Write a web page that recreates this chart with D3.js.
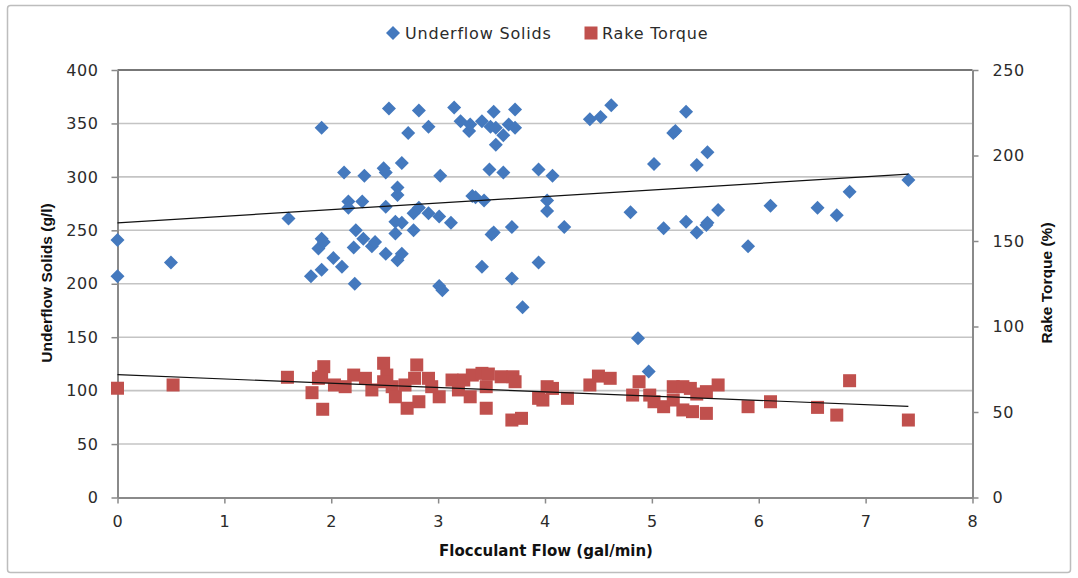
<!DOCTYPE html>
<html>
<head>
<meta charset="utf-8">
<script src="https://cdn.jsdelivr.net/npm/d3@7"></script>
<style>
  html, body { margin: 0; padding: 0; background: #fff; }
  svg { display: block; }
  .tick text { font-family: "DejaVu Sans", sans-serif; font-size: 16px; letter-spacing: 0.6px; fill: #2b2b2b; }
</style>
</head>
<body>
<svg id="chart" width="1078" height="578"></svg>
<script>
// ---- data ----
const xTicks = [0, 1, 2, 3, 4, 5, 6, 7, 8];
const leftTicks = [0, 50, 100, 150, 200, 250, 300, 350, 400];
const rightTicks = [0, 50, 100, 150, 200, 250];
const seriesNames = ["Underflow Solids", "Rake Torque"];

const solidsFlow = [0, 0, 0.5, 1.6, 1.81, 1.88, 1.91, 1.93, 1.91, 1.91, 2.02, 2.1, 2.12, 2.16, 2.16, 2.21, 2.22, 2.23, 2.29, 2.3, 2.31, 2.38, 2.41, 2.49, 2.51, 2.51, 2.51, 2.54, 2.6, 2.6, 2.62, 2.62, 2.62, 2.66, 2.66, 2.66, 2.72, 2.77, 2.77, 2.82, 2.82, 2.91, 2.91, 3.01, 3.02, 3.01, 3.04, 3.12, 3.15, 3.21, 3.29, 3.30, 3.32, 3.35, 3.41, 3.41, 3.43, 3.48, 3.49, 3.50, 3.52, 3.52, 3.54, 3.54, 3.61, 3.61, 3.66, 3.69, 3.69, 3.72, 3.72, 3.79, 3.94, 3.94, 4.02, 4.02, 4.07, 4.18, 4.42, 4.52, 4.62, 4.8, 4.87, 4.97, 5.02, 5.11, 5.2, 5.22, 5.32, 5.32, 5.42, 5.42, 5.51, 5.52, 5.52, 5.62, 5.9, 6.11, 6.55, 6.73, 6.85, 7.4];
const solidsValue = [241, 207, 220, 261, 207, 233, 242, 239, 213, 346, 224, 216, 304, 277, 271, 234, 200, 250, 277, 242, 301, 235, 239, 308, 304, 272, 228, 364, 258, 247, 290, 283, 222, 313, 257, 228, 341, 266, 250, 362, 271, 347, 266, 263, 301, 198, 194, 257, 365, 352, 343, 349, 282, 281, 352, 216, 278, 307, 347, 246, 248, 361, 346, 330, 339, 304, 349, 253, 205, 363, 346, 178, 307, 220, 278, 268, 301, 253, 354, 356, 367, 267, 149, 118, 312, 252, 341, 343, 361, 258, 311, 248, 255, 257, 323, 269, 235, 273, 271, 264, 286, 297];

const torqueFlow = [0, 0.52, 1.59, 1.82, 1.92, 1.91, 1.93, 1.88, 2.03, 2.21, 2.13, 2.32, 2.38, 2.49, 2.52, 2.49, 2.57, 2.60, 2.69, 2.71, 2.80, 2.78, 2.82, 2.91, 3.01, 2.94, 3.13, 3.24, 3.19, 3.32, 3.30, 3.41, 3.47, 3.45, 3.45, 3.59, 3.70, 3.72, 3.69, 3.78, 3.94, 4.02, 4.07, 4.21, 3.98, 4.42, 4.50, 4.61, 4.82, 4.88, 4.98, 5.02, 5.11, 5.20, 5.20, 5.29, 5.36, 5.29, 5.38, 5.42, 5.51, 5.51, 5.62, 5.90, 6.11, 6.55, 6.73, 6.85, 7.40];
const torqueValue = [63.9, 65.8, 70.3, 61.3, 51.6, 70.6, 76.5, 69.7, 65.8, 71.6, 64.8, 69.7, 62.9, 78.5, 71.6, 67.7, 64.8, 58.9, 65.8, 52.2, 77.5, 69.7, 56.0, 69.7, 58.9, 64.8, 68.7, 68.7, 62.9, 71.6, 58.9, 72.6, 72.2, 64.8, 52.2, 70.6, 70.6, 67.7, 45.3, 46.3, 58.0, 64.8, 63.8, 58.0, 57.0, 65.8, 71.0, 69.7, 59.9, 67.7, 59.9, 56.0, 53.1, 64.8, 57.0, 64.8, 63.8, 51.2, 50.2, 60.5, 49.2, 61.9, 65.8, 53.1, 56.0, 52.7, 48.2, 68.3, 45.3];

const trendFlow = [0, 7.4];
const trendSolids = [257, 302.5];
const trendTorque = [71.8, 53.3];

// ---- layout ----
const svg = d3.select("#chart");
const pLeft = 117.5, pRight = 972.5, pTop = 70, pBottom = 497.5;
const blue = "#4479BE", red = "#C0504D";

const x = d3.scaleLinear().domain([0, 8]).range([pLeft, pRight]);
const yL = d3.scaleLinear().domain([0, 400]).range([pBottom, pTop]);
const yR = d3.scaleLinear().domain([0, 250]).range([pBottom, pTop]);

// outer chart border
svg.append("rect").attr("x", 7.5).attr("y", 5.5).attr("width", 1063).attr("height", 567)
  .attr("rx", 3).attr("fill", "#fff").attr("stroke", "#bdbdbd").attr("stroke-width", 1.5);

// gridlines (left scale)
svg.append("g").selectAll("line").data(leftTicks.filter(d => d > 0 && d < 400)).join("line")
  .attr("x1", pLeft).attr("x2", pRight)
  .attr("y1", d => yL(d)).attr("y2", d => yL(d))
  .attr("stroke", "#c4c4c4").attr("stroke-width", 1.6);

// plot top border
svg.append("line").attr("x1", pLeft).attr("x2", pRight).attr("y1", pTop).attr("y2", pTop)
  .attr("stroke", "#777").attr("stroke-width", 2);

// axes
function styleAxis(g) {
  g.select(".domain").attr("stroke", "#8a8a8a").attr("stroke-width", 2);
  g.selectAll(".tick line").attr("stroke", "#8a8a8a").attr("stroke-width", 1.5);
}
svg.append("g").attr("transform", `translate(0,${pBottom})`)
  .call(d3.axisBottom(x).tickValues(xTicks).tickFormat(d3.format("d")).tickSize(6).tickPadding(12).tickSizeOuter(0))
  .call(styleAxis);
svg.append("g").attr("transform", `translate(${pLeft},0)`)
  .call(d3.axisLeft(yL).tickValues(leftTicks).tickFormat(d3.format("d")).tickSize(6).tickPadding(13).tickSizeOuter(0))
  .call(styleAxis);
svg.append("g").attr("transform", `translate(${pRight},0)`)
  .call(d3.axisRight(yR).tickValues(rightTicks).tickFormat(d3.format("d")).tickSize(6).tickPadding(14).tickSizeOuter(0))
  .call(styleAxis);

// Rake Torque squares (secondary axis)
const sq = 13;
svg.append("g").selectAll("rect").data(torqueFlow.map((f, i) => [f, torqueValue[i]])).join("rect")
  .attr("x", d => x(d[0]) - sq / 2).attr("y", d => yR(d[1]) - sq / 2)
  .attr("width", sq).attr("height", sq).attr("fill", red);

// Underflow Solids diamonds
const dia = 7;
const diamondPath = `M0,${-dia}L${dia},0L0,${dia}L${-dia},0Z`;
svg.append("g").selectAll("path").data(solidsFlow.map((f, i) => [f, solidsValue[i]])).join("path")
  .attr("transform", d => `translate(${x(d[0])},${yL(d[1])})`)
  .attr("d", diamondPath).attr("fill", blue);

// trend lines
const lineL = d3.line().x(d => x(d[0])).y(d => yL(d[1]));
const lineR = d3.line().x(d => x(d[0])).y(d => yR(d[1]));
svg.append("path").attr("d", lineL(trendFlow.map((f, i) => [f, trendSolids[i]])))
  .attr("fill", "none").attr("stroke", "#111").attr("stroke-width", 1.2);
svg.append("path").attr("d", lineR(trendFlow.map((f, i) => [f, trendTorque[i]])))
  .attr("fill", "none").attr("stroke", "#111").attr("stroke-width", 1.2);

// axis titles
svg.append("text").attr("transform", `translate(48,283) rotate(-90)`)
  .attr("text-anchor", "middle").attr("dominant-baseline", "middle")
  .attr("font-family", "Liberation Sans, Arial, sans-serif").attr("font-weight", "bold")
  .attr("font-size", 15.5).attr("fill", "#111").text("Underflow Solids  (g/l)");
svg.append("text").attr("transform", `translate(1048,283) rotate(-90)`)
  .attr("text-anchor", "middle").attr("dominant-baseline", "middle")
  .attr("font-family", "Liberation Sans, Arial, sans-serif").attr("font-weight", "bold")
  .attr("font-size", 15.5).attr("fill", "#111").text("Rake Torque (%)");
svg.append("text").attr("x", 546).attr("y", 556)
  .attr("text-anchor", "middle")
  .attr("font-family", "DejaVu Sans, sans-serif").attr("font-weight", "bold")
  .attr("font-size", 15).attr("fill", "#111").text("Flocculant  Flow (gal/min)");

// legend
const lg = svg.append("g").attr("font-family", "DejaVu Sans, sans-serif").attr("font-size", 16)
  .attr("letter-spacing", 0.8).attr("fill", "#2b2b2b");
lg.append("path").attr("transform", "translate(393,33)").attr("d", diamondPath).attr("fill", blue);
lg.append("text").attr("x", 405).attr("y", 38.5).text(seriesNames[0]);
lg.append("rect").attr("x", 591 - sq / 2).attr("y", 33 - sq / 2).attr("width", sq).attr("height", sq).attr("fill", red);
lg.append("text").attr("x", 602).attr("y", 38.5).text(seriesNames[1]);
</script>
</body>
</html>
